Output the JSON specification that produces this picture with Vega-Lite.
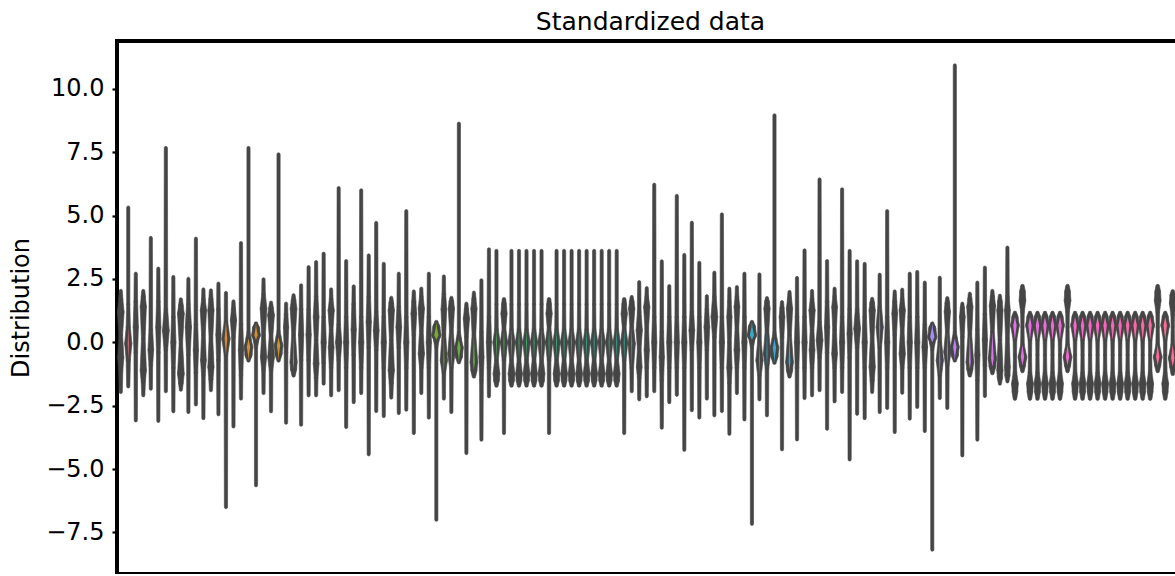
{
"$schema": "https://vega.github.io/schema/vega-lite/v6.json",
"width": 1067, "height": 533,
"autosize": {"type": "none"},
"padding": {"left": 117, "top": 41, "right": 0, "bottom": 0},
"background": "white",
"title": {"text": "Standardized data", "fontSize": 25, "font": "DejaVu Sans", "fontWeight": "normal", "color": "black", "anchor": "middle", "baseline": "alphabetic", "offset": 11, "dy": 25},
"config": {"view": {"stroke": "black", "strokeWidth": 4}, "font": "DejaVu Sans"},
"data": {"values": [
{"i":0,"y":[-1.96,-1.1,-0.6,0.3,1.2,1.7,2.03],"w":[1,2,4,1.5,4.5,2,1]},
{"i":1,"y":[-1.74,-0.7,-0.05,0.6,1.5,5.32],"w":[1,2,5,2,1,1]},
{"i":2,"y":[-3.08,-0.4,0.6,1.6,2.71],"w":[1,1.5,3,1.5,1]},
{"i":3,"y":[-2.09,-1.55,-1.1,0.15,1.4,1.8,2.03],"w":[1,2,4,1.5,4,2,1]},
{"i":4,"y":[-1.83,-0.9,-0.3,0.5,4.12],"w":[1,1.5,3.5,1.5,1]},
{"i":5,"y":[-3.1,-0.4,0.6,1.6,2.91],"w":[1,1.5,3,1.5,1]},
{"i":6,"y":[-1.93,-0.3,0.47,1.3,7.67],"w":[1,1.5,4.5,1.5,1]},
{"i":7,"y":[-2.72,-1,0,1,2.58],"w":[1,1.5,3,1.5,1]},
{"i":8,"y":[-1.87,-1.6,-1.24,-0.05,1.13,1.45,1.7],"w":[1,2.5,4.5,1.2,4.5,2.5,1]},
{"i":9,"y":[-2.75,-0.5,0.6,1.5,2.51],"w":[1,1.5,4,1.5,1]},
{"i":10,"y":[-2.45,-1.2,-0.3,0.7,4.09],"w":[1,1.5,3,1.5,1]},
{"i":11,"y":[-2.99,-1.3,-0.7,0.3,1.26,1.7,2.09],"w":[1,1.5,3.5,1.5,4,1.5,1]},
{"i":12,"y":[-1.89,-1.45,-0.97,0.15,1.26,1.7,2.05],"w":[1,2,4,1.5,4,2,1]},
{"i":13,"y":[-2.84,-0.7,0.3,1.3,2.32],"w":[1,1.5,3,1.5,1]},
{"i":14,"y":[-6.5,-0.5,0.14,0.8,1.95],"w":[1,1.5,6,1.5,1]},
{"i":15,"y":[-3.32,0.2,0.87,1.3,1.62],"w":[1,1.5,4,2,1]},
{"i":16,"y":[-2.22,-1.3,-0.3,0.7,3.92],"w":[1,1.5,3,1.5,1]},
{"i":17,"y":[-0.71,-0.5,-0.18,0.15,0.4,7.67],"w":[1.5,5,6.5,3,1,1]},
{"i":18,"y":[-5.64,-0.2,0.1,0.28,0.55,0.74],"w":[1,1,3.5,6.5,5,1.5]},
{"i":19,"y":[-2.0,-1.1,-0.58,0.3,1.33,1.9,2.49],"w":[1,1.5,4,1.5,4.5,1.5,1]},
{"i":20,"y":[-2.72,-1.1,-0.58,0.25,1.07,1.35,1.57],"w":[1,1.5,4.5,1.5,4.5,2.5,1]},
{"i":21,"y":[-0.71,-0.45,-0.12,0.2,0.45,7.42],"w":[1.5,5,6.5,3,1,1]},
{"i":22,"y":[-3.17,-0.4,0.6,1.1,1.53],"w":[1,1.5,3,1.5,1]},
{"i":23,"y":[-1.3,-1.05,-0.78,0.3,1.33,1.65,1.86],"w":[1.5,4,5,1.5,4.5,2.5,1]},
{"i":24,"y":[-3.25,-0.7,0.3,1.3,2.25],"w":[1,1.5,3,1.5,1]},
{"i":25,"y":[-2.09,-0.7,0.3,1.3,2.97],"w":[1,1.5,3,1.5,1]},
{"i":26,"y":[-2.09,-1.4,-0.84,0.1,1.0,1.8,3.17],"w":[1,1.5,3.5,1.5,3.5,1.5,1]},
{"i":27,"y":[-1.63,-0.8,0,1,3.5],"w":[1,1.5,3,1.5,1]},
{"i":28,"y":[-2.09,-1.0,-0.2,0.5,1.26,1.7,2.09],"w":[1,1.5,3.5,1.5,4,1.5,1]},
{"i":29,"y":[-1.89,-0.7,0,0.7,6.09],"w":[1,1.5,4,1.5,1]},
{"i":30,"y":[-3.34,-1,0,1,3.21],"w":[1,1.5,3,1.5,1]},
{"i":31,"y":[-2.36,-0.5,0.5,1.5,2.21],"w":[1,1.5,3,1.5,1]},
{"i":32,"y":[-2.0,-1,0,1,6.0],"w":[1,1.5,3,1.5,1]},
{"i":33,"y":[-4.42,-0.2,0.8,1.8,3.43],"w":[1,1.5,3,1.5,1]},
{"i":34,"y":[-2.71,-0.3,0.47,1.2,4.71],"w":[1,1.5,3.5,1.5,1]},
{"i":35,"y":[-2.91,-1,0,1,3.1],"w":[1,1.5,3,1.5,1]},
{"i":36,"y":[-2.18,-1.6,-1.1,0.1,1.26,1.55,1.76],"w":[1,2,4,1.5,4,2.5,1]},
{"i":37,"y":[-2.79,-0.2,0.6,1.4,2.71],"w":[1,1.5,3.5,1.5,1]},
{"i":38,"y":[-2.66,-1,0,1,5.18],"w":[1,1.5,3,1.5,1]},
{"i":39,"y":[-3.58,0.3,1.13,1.6,2.01],"w":[1,1.5,3.5,2,1]},
{"i":40,"y":[-2.0,-1.0,-0.45,0.45,1.33,1.8,2.12],"w":[1,1.5,4,1.5,4,1.5,1]},
{"i":41,"y":[-2.97,-1,0,1,2.71],"w":[1,1.5,3,1.5,1]},
{"i":42,"y":[-7.0,-0.2,0.1,0.28,0.6,0.8],"w":[1,1,3.5,7,5,1.5]},
{"i":43,"y":[-2.22,-1.2,-0.71,0.3,1.3,1.9,2.6],"w":[1,1.5,5,1.5,3.5,1.5,1]},
{"i":44,"y":[-2.75,-1.0,-0.45,0.45,1.33,1.6,1.76],"w":[1,1.5,5,1.5,4,2.5,1]},
{"i":45,"y":[-0.78,-0.55,-0.21,0.12,0.4,8.63],"w":[1.5,5,6.5,3,1,1]},
{"i":46,"y":[-4.37,0.2,0.93,1.3,1.53],"w":[1,1.5,4,2,1]},
{"i":47,"y":[-1.34,-1.1,-0.78,0.3,1.33,1.7,1.96],"w":[1.5,4,5.5,1.5,4,2,1]},
{"i":48,"y":[-3.84,-1.5,-0.58,0.4,2.45],"w":[1,1.5,3,1.5,1]},
{"i":49,"y":[-2.13,-1,0,1,3.67],"w":[1,1.5,3,1.5,1]},
{"i":50,"y":[-1.7,-1.5,-1.24,-0.7,0,0.5,1.5,3.61],"w":[1.5,3.5,4.5,1.5,5,1.5,1,1]},
{"i":51,"y":[-3.58,-0.7,0,0.55,1.13,1.5,1.7],"w":[1,1.5,5,1.5,4,2.5,1.5]},
{"i":52,"y":[-1.7,-1.5,-1.24,-0.7,0,0.5,1.5,3.61],"w":[1.5,3.5,4.5,1.5,5,1.5,1,1]},
{"i":53,"y":[-1.7,-1.5,-1.24,-0.7,0,0.5,1.5,3.61],"w":[1.5,3.5,4.5,1.5,5,1.5,1,1]},
{"i":54,"y":[-1.7,-1.5,-1.24,-0.7,0,0.5,1.5,3.61],"w":[1.5,3.5,4.5,1.5,5,1.5,1,1]},
{"i":55,"y":[-1.7,-1.5,-1.24,-0.7,0,0.5,1.5,3.61],"w":[1.5,3.5,4.5,1.5,5,1.5,1,1]},
{"i":56,"y":[-1.7,-1.5,-1.24,-0.7,0,0.5,1.5,3.61],"w":[1.5,3.5,4.5,1.5,5,1.5,1,1]},
{"i":57,"y":[-3.58,-0.7,0,0.55,1.13,1.5,1.7],"w":[1,1.5,5,1.5,4,2.5,1.5]},
{"i":58,"y":[-1.7,-1.5,-1.24,-0.7,0,0.5,1.5,3.61],"w":[1.5,3.5,4.5,1.5,5,1.5,1,1]},
{"i":59,"y":[-1.7,-1.5,-1.24,-0.7,0,0.5,1.5,3.61],"w":[1.5,3.5,4.5,1.5,5,1.5,1,1]},
{"i":60,"y":[-1.7,-1.5,-1.24,-0.7,0,0.5,1.5,3.61],"w":[1.5,3.5,4.5,1.5,5,1.5,1,1]},
{"i":61,"y":[-1.7,-1.5,-1.24,-0.7,0,0.5,1.5,3.61],"w":[1.5,3.5,4.5,1.5,5,1.5,1,1]},
{"i":62,"y":[-1.7,-1.5,-1.24,-0.7,0,0.5,1.5,3.61],"w":[1.5,3.5,4.5,1.5,5,1.5,1,1]},
{"i":63,"y":[-1.7,-1.5,-1.24,-0.7,0,0.5,1.5,3.61],"w":[1.5,3.5,4.5,1.5,5,1.5,1,1]},
{"i":64,"y":[-1.7,-1.5,-1.24,-0.7,0,0.5,1.5,3.61],"w":[1.5,3.5,4.5,1.5,5,1.5,1,1]},
{"i":65,"y":[-1.7,-1.5,-1.24,-0.7,0,0.5,1.5,3.61],"w":[1.5,3.5,4.5,1.5,5,1.5,1,1]},
{"i":66,"y":[-1.7,-1.5,-1.24,-0.7,0,0.5,1.5,3.61],"w":[1.5,3.5,4.5,1.5,5,1.5,1,1]},
{"i":67,"y":[-3.58,-0.7,0,0.55,1.13,1.5,1.7],"w":[1,1.5,5,1.5,4,2.5,1.5]},
{"i":68,"y":[-1.93,-1.0,-0.05,0.6,1.33,1.6,1.79],"w":[1,1.5,5,1.5,4,2.5,1]},
{"i":69,"y":[-2.25,-1.4,-0.97,-0.25,0.47,1.2,2.38],"w":[1,1.5,3.5,1.5,4,1.5,1]},
{"i":70,"y":[-2.13,-1.0,-0.3,0.55,1.39,1.8,2.14],"w":[1,1.5,3,1.5,4,1.5,1]},
{"i":71,"y":[-1.93,-1,0,1,6.22],"w":[1,1.5,3,1.5,1]},
{"i":72,"y":[-3.37,-1.5,-0.58,0.4,3.2],"w":[1,1.5,3,1.5,1]},
{"i":73,"y":[-2.36,-1,0,1,2.22],"w":[1,1.5,3,1.5,1]},
{"i":74,"y":[-2.07,-1,0,1,5.78],"w":[1,1.5,3,1.5,1]},
{"i":75,"y":[-4.24,-1,0,1,3.45],"w":[1,1.5,3,1.5,1]},
{"i":76,"y":[-2.68,-0.3,0.47,1.2,4.72],"w":[1,1.5,3.5,1.5,1]},
{"i":77,"y":[-2.97,-1,0,1,3.14],"w":[1,1.5,3,1.5,1]},
{"i":78,"y":[-2.22,-0.3,0.6,1.3,1.82],"w":[1,1.5,3.5,1.5,1]},
{"i":79,"y":[-2.88,0.2,1.0,1.8,2.75],"w":[1,1.5,4.5,1.5,1]},
{"i":80,"y":[-2.71,-1,0,1,5.05],"w":[1,1.5,3,1.5,1]},
{"i":81,"y":[-3.61,-1.6,-1.0,0,1.0,1.6,2.12],"w":[1,1.5,3,1.5,3,1.5,1]},
{"i":82,"y":[-2.0,-1.0,-0.3,0.55,1.4,1.8,2.18],"w":[1,1.5,3.5,1.5,3.5,1.5,1]},
{"i":83,"y":[-3.04,-1,0,1,2.71],"w":[1,1.5,3,1.5,1]},
{"i":84,"y":[-7.16,-0.2,0.1,0.28,0.6,0.8],"w":[1,1,3.5,7,5,1.5]},
{"i":85,"y":[-2.25,-1.3,-0.71,0,2.68],"w":[1,1.5,5,1.5,1]},
{"i":86,"y":[-2.88,-1.0,-0.45,0.45,1.33,1.6,1.75],"w":[1,1.5,5,1.5,4,2.5,1]},
{"i":87,"y":[-0.8,-0.55,-0.21,0.12,0.4,8.96],"w":[1.5,5,6.5,3,1,1]},
{"i":88,"y":[-4.22,0.2,1.0,1.35,1.59],"w":[1,1.5,3.5,2,1]},
{"i":89,"y":[-1.34,-1.1,-0.78,0.3,1.33,1.7,1.99],"w":[1.5,4,5.5,1.5,4,2,1]},
{"i":90,"y":[-3.83,-1,0,1,2.54],"w":[1,1.5,3,1.5,1]},
{"i":91,"y":[-2.2,-1,0,1,3.63],"w":[1,1.5,3,1.5,1]},
{"i":92,"y":[-2.09,-1.0,-0.3,0.5,1.26,1.7,2.03],"w":[1,1.5,3.5,1.5,4,1.5,1]},
{"i":93,"y":[-1.89,-0.6,0.08,0.8,6.43],"w":[1,1.5,4.5,1.5,1]},
{"i":94,"y":[-3.41,-0.4,0.6,1.6,3.21],"w":[1,1.5,3,1.5,1]},
{"i":95,"y":[-2.33,-1.0,-0.45,0.5,1.39,1.8,2.12],"w":[1,1.5,3.5,1.5,3.5,1.5,1]},
{"i":96,"y":[-1.96,-1,0,1,6.04],"w":[1,1.5,3,1.5,1]},
{"i":97,"y":[-4.62,-0.6,0.34,1.3,3.61],"w":[1,1.5,3,1.5,1]},
{"i":98,"y":[-2.82,-0.2,0.54,1.3,3.2],"w":[1,1.5,4.5,1.5,1]},
{"i":99,"y":[-2.99,-1,0,1,3.1],"w":[1,1.5,3,1.5,1]},
{"i":100,"y":[-1.96,-1.5,-0.97,0.15,1.26,1.55,1.72],"w":[1,2,4,1.5,4,2.5,1]},
{"i":101,"y":[-2.75,-0.2,0.6,1.4,2.67],"w":[1,1.5,5,1.5,1]},
{"i":102,"y":[-2.59,-1,0,1,5.18],"w":[1,1.5,3,1.5,1]},
{"i":103,"y":[-3.54,0.3,1.13,1.6,2.01],"w":[1,1.5,3.5,2,1]},
{"i":104,"y":[-1.99,-1.0,-0.45,0.45,1.26,1.7,2.08],"w":[1,1.5,4,1.5,4,1.5,1]},
{"i":105,"y":[-3.01,-1,0,1,2.71],"w":[1,1.5,3,1.5,1]},
{"i":106,"y":[-2.55,-1,0,1,2.78],"w":[1,1.5,3,1.5,1]},
{"i":107,"y":[-3.5,-1,-0.18,0.7,2.36],"w":[1,1.5,3.5,1.5,1]},
{"i":108,"y":[-8.18,-0.3,0.0,0.21,0.55,0.74],"w":[1,1,3.5,7,5,1.5]},
{"i":109,"y":[-2.2,-1.3,-0.71,0,2.55],"w":[1,1.5,5,1.5,1]},
{"i":110,"y":[-2.59,-0.9,-0.38,0.4,1.2,1.55,1.75],"w":[1,1.5,5,1.5,4,2.5,1]},
{"i":111,"y":[-0.71,-0.5,-0.18,0.15,0.4,10.93],"w":[1.5,5,6.5,3,1,1]},
{"i":112,"y":[-4.46,0.2,1.0,1.35,1.53],"w":[1,1.5,3.5,2,1]},
{"i":113,"y":[-1.3,-1.05,-0.78,0.3,1.4,1.7,1.92],"w":[1.5,4,5.5,1.5,4,2,1]},
{"i":114,"y":[-3.84,-1.5,-0.5,0.5,2.36],"w":[1,1.5,3,1.5,1]},
{"i":115,"y":[-2.12,-0.9,0.1,1.1,2.95],"w":[1,1.5,3,1.5,1]},
{"i":116,"y":[-1.21,-0.95,-0.64,0.4,1.45,1.8,2.03],"w":[1.5,4.5,6,1.5,4,2,1]},
{"i":117,"y":[-1.63,-1.4,-1.1,0.1,1.26,1.6,1.84],"w":[1,3,4,1.5,4,2.5,1]},
{"i":118,"y":[-1.54,-1.3,-0.97,0.15,1.26,1.8,3.74],"w":[1,3,3.5,1.5,3.5,1.5,1]},
{"i":119,"y":[-2.22,-1.95,-1.63,-1.2,-0.5,0.1,0.67,1.0,1.16],"w":[1.5,3.5,4.5,1.5,1,1.5,6.5,4,1.5]},
{"i":120,"y":[-1.13,-0.9,-0.58,-0.1,0.6,1.2,1.65,2.0,2.22],"w":[1.5,4,6.5,1.5,1,1.5,4.5,3.5,1.5]},
{"i":121,"y":[-2.22,-1.95,-1.63,-1.2,-0.5,0.1,0.67,1.0,1.16],"w":[1.5,3.5,4.5,1.5,1,1.5,6.5,4,1.5]},
{"i":122,"y":[-2.22,-1.95,-1.63,-1.2,-0.5,0.1,0.67,1.0,1.16],"w":[1.5,3.5,4.5,1.5,1,1.5,6.5,4,1.5]},
{"i":123,"y":[-2.22,-1.95,-1.63,-1.2,-0.5,0.1,0.67,1.0,1.16],"w":[1.5,3.5,4.5,1.5,1,1.5,6.5,4,1.5]},
{"i":124,"y":[-2.22,-1.95,-1.63,-1.2,-0.5,0.1,0.67,1.0,1.16],"w":[1.5,3.5,4.5,1.5,1,1.5,6.5,4,1.5]},
{"i":125,"y":[-2.22,-1.95,-1.63,-1.2,-0.5,0.1,0.67,1.0,1.16],"w":[1.5,3.5,4.5,1.5,1,1.5,6.5,4,1.5]},
{"i":126,"y":[-1.13,-0.9,-0.58,-0.1,0.6,1.2,1.65,2.0,2.22],"w":[1.5,4,6.5,1.5,1,1.5,4.5,3.5,1.5]},
{"i":127,"y":[-2.22,-1.95,-1.63,-1.2,-0.5,0.1,0.67,1.0,1.16],"w":[1.5,3.5,4.5,1.5,1,1.5,6.5,4,1.5]},
{"i":128,"y":[-2.22,-1.95,-1.63,-1.2,-0.5,0.1,0.67,1.0,1.16],"w":[1.5,3.5,4.5,1.5,1,1.5,6.5,4,1.5]},
{"i":129,"y":[-2.22,-1.95,-1.63,-1.2,-0.5,0.1,0.67,1.0,1.16],"w":[1.5,3.5,4.5,1.5,1,1.5,6.5,4,1.5]},
{"i":130,"y":[-2.22,-1.95,-1.63,-1.2,-0.5,0.1,0.67,1.0,1.16],"w":[1.5,3.5,4.5,1.5,1,1.5,6.5,4,1.5]},
{"i":131,"y":[-2.22,-1.95,-1.63,-1.2,-0.5,0.1,0.67,1.0,1.16],"w":[1.5,3.5,4.5,1.5,1,1.5,6.5,4,1.5]},
{"i":132,"y":[-2.22,-1.95,-1.63,-1.2,-0.5,0.1,0.67,1.0,1.16],"w":[1.5,3.5,4.5,1.5,1,1.5,6.5,4,1.5]},
{"i":133,"y":[-2.22,-1.95,-1.63,-1.2,-0.5,0.1,0.67,1.0,1.16],"w":[1.5,3.5,4.5,1.5,1,1.5,6.5,4,1.5]},
{"i":134,"y":[-2.22,-1.95,-1.63,-1.2,-0.5,0.1,0.67,1.0,1.16],"w":[1.5,3.5,4.5,1.5,1,1.5,6.5,4,1.5]},
{"i":135,"y":[-2.22,-1.95,-1.63,-1.2,-0.5,0.1,0.67,1.0,1.16],"w":[1.5,3.5,4.5,1.5,1,1.5,6.5,4,1.5]},
{"i":136,"y":[-2.22,-1.95,-1.63,-1.2,-0.5,0.1,0.67,1.0,1.16],"w":[1.5,3.5,4.5,1.5,1,1.5,6.5,4,1.5]},
{"i":137,"y":[-2.22,-1.95,-1.63,-1.2,-0.5,0.1,0.67,1.0,1.16],"w":[1.5,3.5,4.5,1.5,1,1.5,6.5,4,1.5]},
{"i":138,"y":[-1.13,-0.9,-0.58,-0.1,0.6,1.2,1.65,2.0,2.22],"w":[1.5,4,6.5,1.5,1,1.5,4.5,3.5,1.5]},
{"i":139,"y":[-2.22,-1.95,-1.63,-1.2,-0.5,0.1,0.67,1.0,1.16],"w":[1.5,3.5,4.5,1.5,1,1.5,6.5,4,1.5]},
{"i":140,"y":[-1.24,-0.95,-0.62,-0.1,0.6,1.1,1.55,1.85,2.01],"w":[1.5,4,6.5,1.5,1,1.5,4.5,3.5,1.5]},
{"i":141,"y":[-2.22,-1.95,-1.63,-1.2,-0.5,0.1,0.67,1.0,1.16],"w":[1.5,3.5,4.5,1.5,1,1.5,6.5,4,1.5]}
]},
"transform": [{"flatten": ["y", "w"]}],
"encoding": {
  "x": {"field": "i", "type": "ordinal", "scale": {"type": "point", "padding": 0.5},
        "axis": {"labels": false, "ticks": true, "tickColor": "black", "tickSize": 4, "tickWidth": 1.5, "domain": false, "title": null}},
  "y": {"field": "y", "type": "quantitative", "scale": {"domain": [-9.14, 11.89], "nice": false, "zero": false},
        "axis": {"values": [-7.5, -5, -2.5, 0, 2.5, 5, 7.5, 10], "format": ".1f", "labelFontSize": 24, "labelFont": "DejaVu Sans", "labelColor": "black",
                 "tickColor": "black", "tickSize": 5, "tickWidth": 2.2, "labelPadding": 8, "domain": false, "grid": false,
                 "title": "Distribution", "titleFontSize": 24, "titleFont": "DejaVu Sans", "titleFontWeight": "normal", "titleColor": "black", "titlePadding": 12}},
  "order": {"field": "y", "type": "quantitative"},
  "detail": {"field": "i", "type": "nominal"}
},
"layer": [
  {"mark": {"type": "trail", "fill": "#454545", "stroke": "#454545", "strokeWidth": 0.6},
   "encoding": {"size": {"field": "w", "type": "quantitative", "scale": {"domain": [0, 20], "range": [2.2, 22.2], "zero": false}, "legend": null}}},
  {"mark": {"type": "trail", "strokeWidth": 0, "strokeOpacity": 0},
   "encoding": {
     "size": {"field": "w", "type": "quantitative", "scale": {"type": "threshold", "domain": [4.75, 5.25, 5.75, 6.25, 6.75], "range": [0.01, 1, 1.8, 2.6, 3.4, 4.2]}, "legend": null},
     "fill": {"field": "i", "type": "quantitative", "legend": null,
               "scale": {"domain": [0, 14.2, 28.4, 42.6, 56.8, 71, 85.2, 99.4, 113.6, 127.8, 142],
                         "range": ["#f77189", "#dc8932", "#ae9d31", "#77ab31", "#33b07a", "#36ada4", "#38a9c5", "#6e9bf4", "#cc7af4", "#f565cc", "#f77189"],
                         "interpolate": "hcl"}}}}
],
"resolve": {"scale": {"size": "independent"}}
}
